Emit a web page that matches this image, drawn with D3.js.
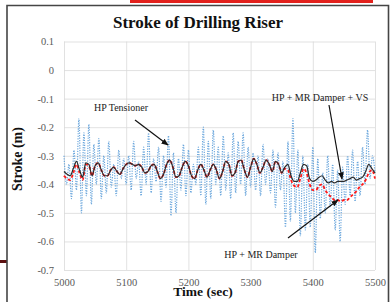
<!DOCTYPE html>
<html>
<head>
<meta charset="utf-8">
<script src="https://cdnjs.cloudflare.com/ajax/libs/d3/7.8.5/d3.min.js"></script>
<style>
  body { margin: 0; background: #fff; }
  svg { display: block; }
  .grid line { stroke: #d9d9d9; stroke-width: 0.8; }
  .grid path { display: none; }
</style>
</head>
<body>
<div id="chart"></div>
<script>
// tick labels
var xTicks = [5000, 5100, 5200, 5300, 5400, 5500];
var yTicks = [0.1, 0, -0.1, -0.2, -0.3, -0.4, -0.5, -0.6, -0.7];

// HP Tensioner, sampled every 4 sec from 5000
var blueStart = 5000, blueStep = 4;
var blueVals = [
  -0.30, -0.40, -0.33, -0.45, -0.28, -0.42, -0.17, -0.50, -0.22, -0.44, -0.19, -0.47, -0.26,
  -0.40, -0.24, -0.45, -0.30, -0.43, -0.25, -0.41, -0.33, -0.44, -0.28, -0.38, -0.31, -0.40,
  -0.30, -0.42, -0.25, -0.38, -0.32, -0.44, -0.27, -0.40, -0.22, -0.43, -0.31, -0.39, -0.27,
  -0.46, -0.30, -0.41, -0.23, -0.51, -0.29, -0.50, -0.31, -0.42, -0.26, -0.44, -0.28,
  -0.43, -0.33, -0.40, -0.27, -0.44, -0.20, -0.47, -0.25, -0.45, -0.21, -0.40, -0.27, -0.44,
  -0.23, -0.42, -0.29, -0.45, -0.22, -0.43, -0.25, -0.40, -0.22, -0.44, -0.27, -0.41,
  -0.29, -0.42, -0.30, -0.44, -0.26, -0.40, -0.31, -0.43, -0.28, -0.48, -0.29, -0.42, -0.32,
  -0.55, -0.25, -0.53, -0.17, -0.50, -0.28, -0.58, -0.30, -0.56, -0.33, -0.55, -0.27,
  -0.64, -0.31, -0.52, -0.36, -0.50, -0.30, -0.48, -0.33, -0.56, -0.35, -0.60, -0.34, -0.47,
  -0.30, -0.44, -0.28, -0.46, -0.32, -0.44, -0.27, -0.40, -0.21, -0.38, -0.30, -0.36
];

// HP + MR Damper + VS, every 5 sec from 5000
var lineStart = 5000, lineStep = 5;
var blackVals = [
  -0.355, -0.365, -0.37, -0.345, -0.32, -0.35, -0.375, -0.325, -0.33, -0.37,   // 5000-5045
  -0.335, -0.325, -0.35, -0.37, -0.37, -0.35, -0.34, -0.355, -0.365, -0.345,   // 5050-5095
  -0.33, -0.325, -0.33, -0.335, -0.33, -0.34, -0.36, -0.355, -0.335, -0.33,    // 5100-5145
  -0.355, -0.38, -0.365, -0.33, -0.315, -0.34, -0.375, -0.37, -0.34, -0.32,    // 5150-5195
  -0.335, -0.37, -0.38, -0.35, -0.33, -0.35, -0.375, -0.35, -0.33, -0.35,      // 5200-5245
  -0.38, -0.355, -0.32, -0.33, -0.37, -0.36, -0.32, -0.315, -0.35, -0.375,     // 5250-5295
  -0.34, -0.31, -0.33, -0.36, -0.34, -0.315, -0.33, -0.355, -0.32, -0.33,      // 5300-5345
  -0.36, -0.34, -0.33, -0.37, -0.39, -0.39, -0.36, -0.33, -0.335, -0.38,       // 5350-5395
  -0.39, -0.385, -0.375, -0.37, -0.385, -0.395, -0.39, -0.395, -0.39, -0.39,   // 5400-5445
  -0.39, -0.385, -0.38, -0.375, -0.385, -0.38, -0.375, -0.355, -0.33, -0.345,  // 5450-5495
  -0.36                                                                         // 5500
];

// HP + MR Damper, every 5 sec from 5000
var redVals = [
  -0.37, -0.38, -0.385, -0.36, -0.33, -0.36, -0.385, -0.33, -0.335, -0.37,     // 5000-5045
  -0.335, -0.325, -0.35, -0.37, -0.37, -0.35, -0.34, -0.355, -0.365, -0.345,   // 5050-5095
  -0.33, -0.325, -0.33, -0.335, -0.33, -0.34, -0.36, -0.355, -0.335, -0.33,    // 5100-5145
  -0.355, -0.38, -0.365, -0.33, -0.315, -0.34, -0.375, -0.37, -0.34, -0.32,    // 5150-5195
  -0.335, -0.37, -0.38, -0.35, -0.33, -0.35, -0.375, -0.35, -0.33, -0.35,      // 5200-5245
  -0.38, -0.355, -0.32, -0.33, -0.37, -0.36, -0.32, -0.315, -0.35, -0.375,     // 5250-5295
  -0.34, -0.31, -0.33, -0.36, -0.34, -0.315, -0.33, -0.355, -0.32, -0.33,      // 5300-5345
  -0.36, -0.345, -0.35, -0.385, -0.405, -0.41, -0.38, -0.345, -0.36, -0.40,    // 5350-5395
  -0.42, -0.42, -0.405, -0.40, -0.42, -0.435, -0.445, -0.455, -0.455, -0.46,   // 5400-5445
  -0.455, -0.455, -0.445, -0.435, -0.425, -0.41, -0.40, -0.385, -0.36, -0.35,  // 5450-5495
  -0.38                                                                         // 5500
];

var svgWidth = 392;
var svgHeight = 302;
var margin = { top: 41.5, right: 17, bottom: 32, left: 64 };
var width = svgWidth - margin.left - margin.right;
var height = svgHeight - margin.top - margin.bottom;
var serif = "'Liberation Serif', 'Times New Roman', serif";

var svg = d3.select("#chart").append("svg")
    .attr("width", svgWidth)
    .attr("height", svgHeight);

// slide decorations
svg.append("rect").attr("x", 130).attr("y", 0).attr("width", 243).attr("height", 3).attr("fill", "#e3211c");
svg.append("rect").attr("x", 0).attr("y", 260).attr("width", 7).attr("height", 3).attr("fill", "#5c1010");
svg.append("path")
    .attr("d", "M7,305 V5.5 H388.5 V305")
    .attr("fill", "none")
    .attr("stroke", "#454545")
    .attr("stroke-width", 1.6);

var chartGroup = svg.append("g")
    .attr("transform", `translate(${margin.left}, ${margin.top})`);

var x = d3.scaleLinear().domain([5000, 5500]).range([0, width]);
var y = d3.scaleLinear().domain([-0.7, 0.1]).range([height, 0]);

// grid + tick labels
var xAxisG = chartGroup.append("g")
    .attr("class", "grid")
    .attr("transform", `translate(0, ${height})`)
    .call(d3.axisBottom(x).tickValues(xTicks).tickSize(-height).tickPadding(9).tickFormat(d3.format("d")));

var yAxisG = chartGroup.append("g")
    .attr("class", "grid")
    .call(d3.axisLeft(y).tickValues(yTicks).tickSize(-width).tickPadding(10)
        .tickFormat(d => d === 0 ? "0" : d.toFixed(1)));

[xAxisG, yAxisG].forEach(function (g) {
    g.attr("font-family", serif);
    g.selectAll("text")
        .style("font-family", serif)
        .style("font-size", "10.5px")
        .attr("fill", "#595959");
});

var blueData = blueVals.map((v, i) => ({ t: blueStart + i * blueStep, v: v }));
var blackData = blackVals.map((v, i) => ({ t: lineStart + i * lineStep, v: v }));
var redData = redVals.map((v, i) => ({ t: lineStart + i * lineStep, v: v }));

var line = d3.line()
    .x(d => x(d.t))
    .y(d => y(d.v))
    .curve(d3.curveMonotoneX);

chartGroup.append("path")
    .datum(blueData)
    .attr("d", line)
    .attr("fill", "none")
    .attr("stroke", "#6aa6dc")
    .attr("stroke-width", 1.2)
    .attr("stroke-dasharray", "1.2,1.3");

chartGroup.append("path")
    .datum(redData)
    .attr("d", line)
    .attr("fill", "none")
    .attr("stroke", "#ff1a1a")
    .attr("stroke-width", 1.8)
    .attr("stroke-dasharray", "3,2.2");

chartGroup.append("path")
    .datum(blackData)
    .attr("d", line)
    .attr("fill", "none")
    .attr("stroke", "#2b2b2b")
    .attr("stroke-width", 1.2);

// annotations
svg.append("defs").append("marker")
    .attr("id", "arrow")
    .attr("viewBox", "0 0 10 10")
    .attr("refX", 9).attr("refY", 5)
    .attr("markerWidth", 6).attr("markerHeight", 6)
    .attr("orient", "auto")
    .append("path")
    .attr("d", "M0,1 L10,5 L0,9 z")
    .attr("fill", "#111");

function note(label, tx, ty, x1, y1, x2, y2) {
    svg.append("text")
        .attr("x", tx).attr("y", ty)
        .attr("text-anchor", "middle")
        .style("font-family", serif)
        .style("font-size", "10px")
        .attr("fill", "#222")
        .text(label);
    svg.append("line")
        .attr("x1", x1).attr("y1", y1).attr("x2", x2).attr("y2", y2)
        .attr("stroke", "#111").attr("stroke-width", 1.2)
        .attr("marker-end", "url(#arrow)");
}
note("HP Tensioner", 121, 111, 135, 120, 168, 145);
note("HP + MR Damper + VS", 320, 101, 329, 105, 342, 179);
note("HP + MR Damper", 261, 258, 288, 238, 338, 200);

// titles
svg.append("text")
    .attr("x", 198).attr("y", 28)
    .attr("text-anchor", "middle")
    .style("font-family", serif)
    .style("font-weight", "bold")
    .style("font-size", "17px")
    .attr("fill", "#111")
    .text("Stroke of Drilling Riser");

svg.append("text")
    .attr("transform", "translate(22, 159) rotate(-90)")
    .attr("text-anchor", "middle")
    .style("font-family", serif)
    .style("font-weight", "bold")
    .style("font-size", "14px")
    .attr("fill", "#111")
    .text("Stroke (m)");

svg.append("text")
    .attr("x", 203).attr("y", 296)
    .attr("text-anchor", "middle")
    .style("font-family", serif)
    .style("font-weight", "bold")
    .style("font-size", "13.5px")
    .attr("fill", "#111")
    .text("Time (sec)");
</script>
</body>
</html>
